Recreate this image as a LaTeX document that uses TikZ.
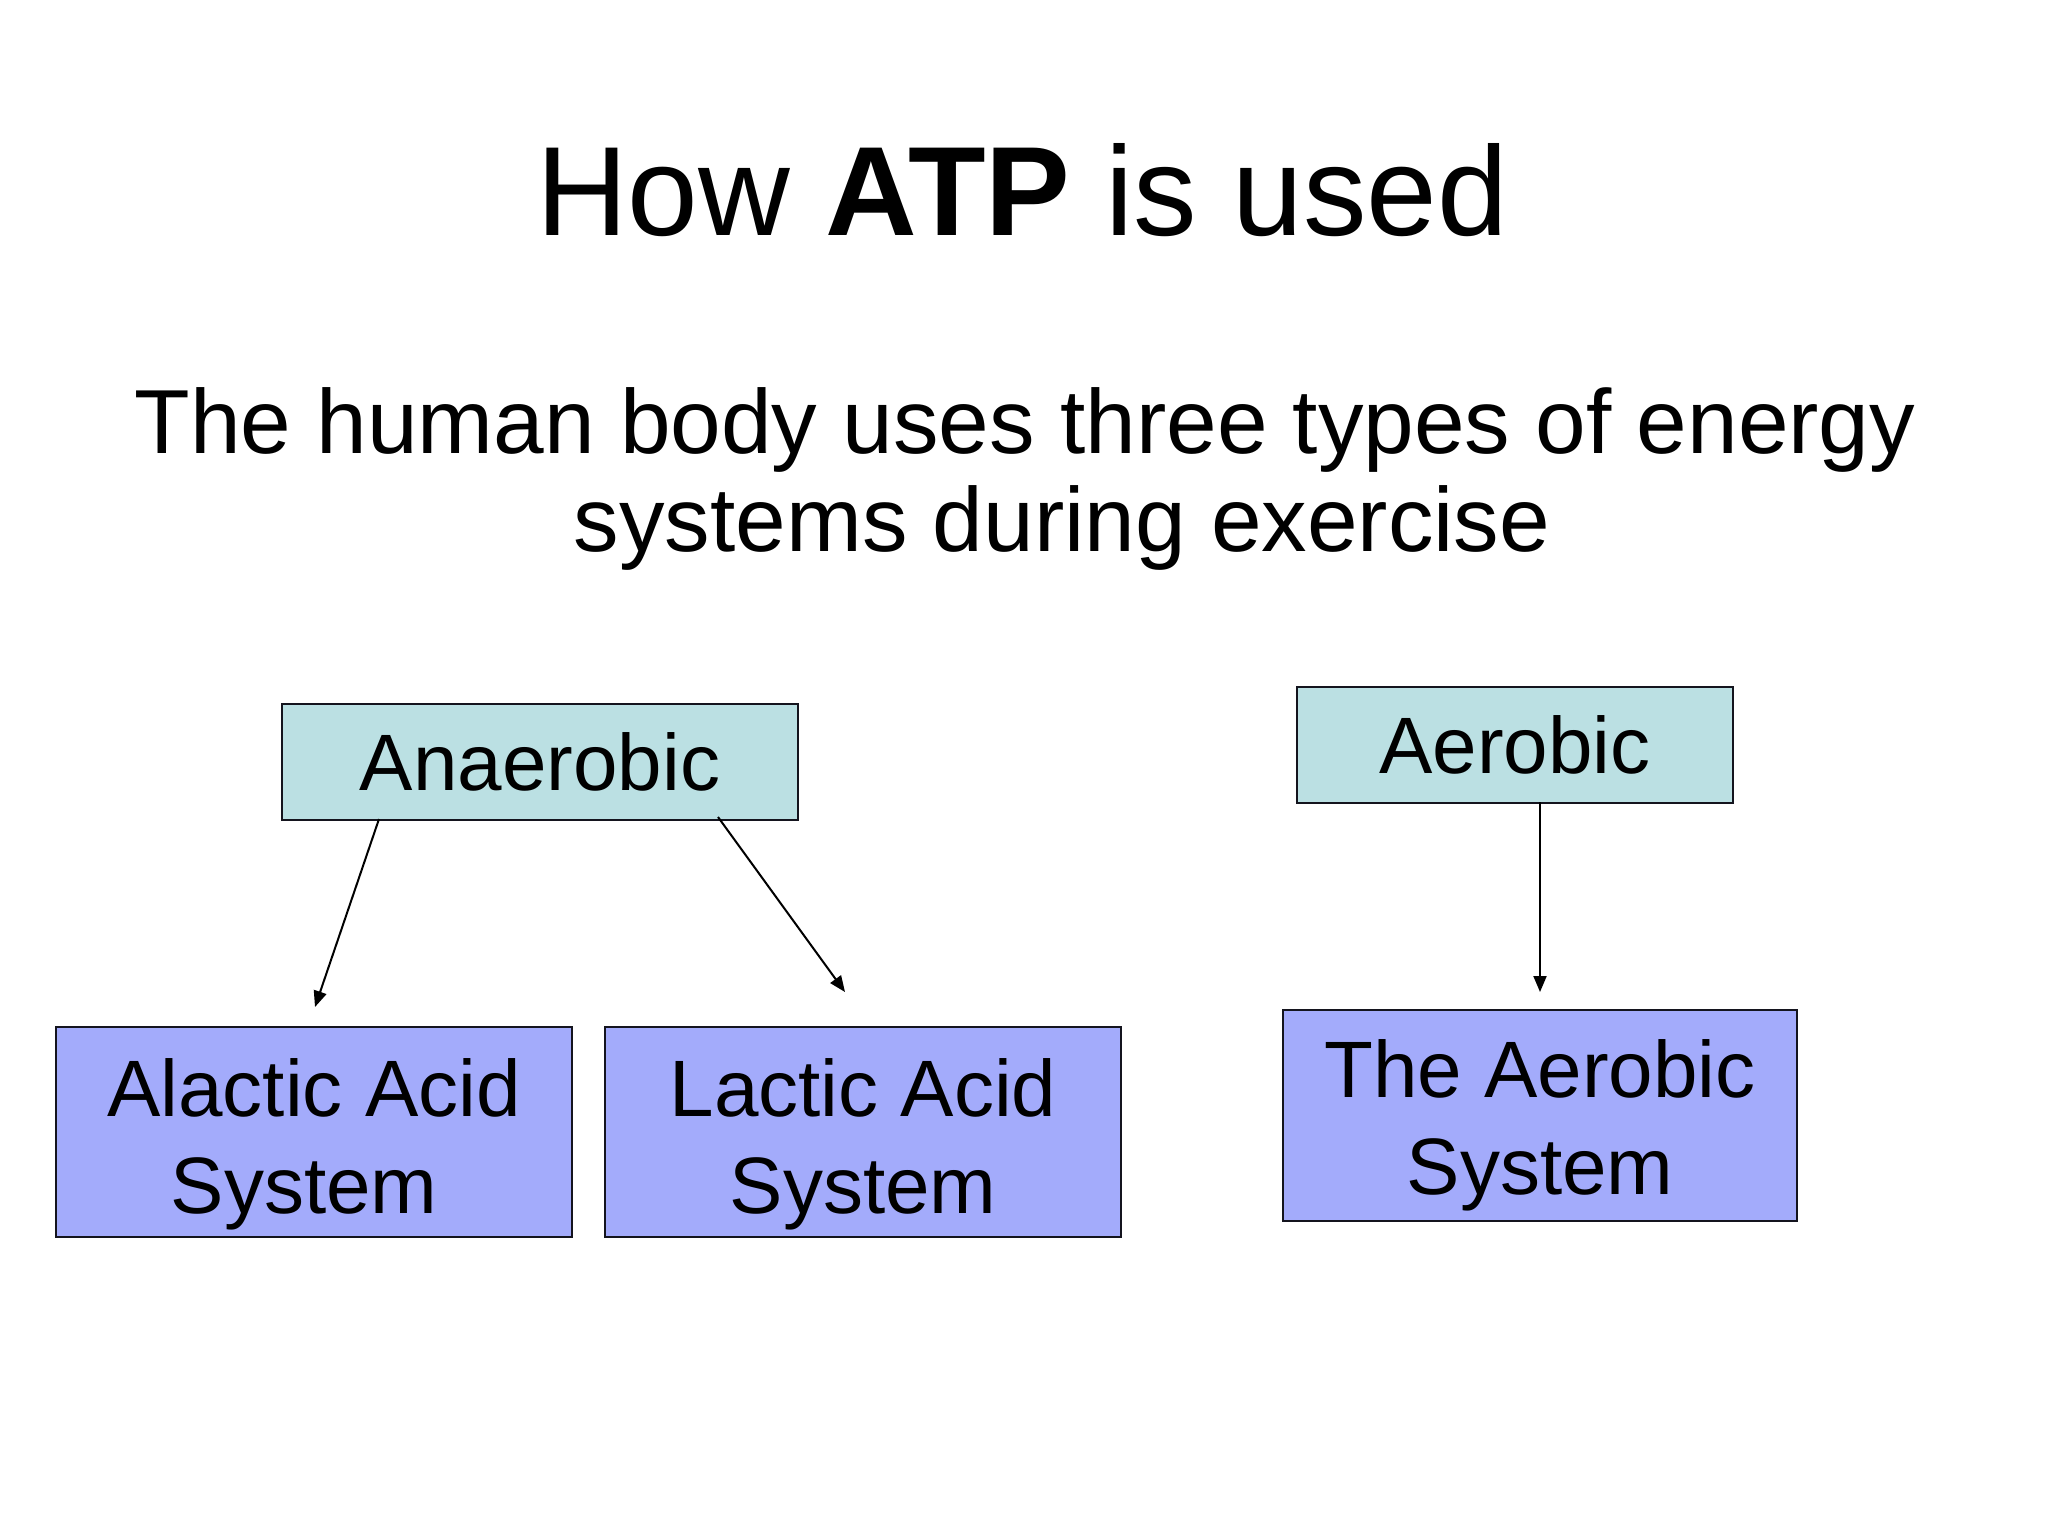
\documentclass[tikz,border=0pt]{standalone}
\usepackage{fontspec}
\setmainfont{Liberation Sans}
\usetikzlibrary{arrows.meta}
\definecolor{topfill}{RGB}{187,224,227}
\definecolor{botfill}{RGB}{163,171,251}
\definecolor{edge}{RGB}{20,20,30}
\tikzset{
  px/.style={x=0.5pt,y=-0.5pt},
  topbox/.style={draw=edge,line width=1pt,fill=topfill,inner sep=0pt,minimum height=58pt,
    font=\fontsize{40}{48.5}\selectfont},
  botbox/.style={draw=edge,line width=1pt,fill=botfill,inner sep=0pt,minimum width=258pt,minimum height=105pt},
  boxtext/.style={inner sep=0pt,align=center,font=\fontsize{40}{48.5}\selectfont},
  arr/.style={line width=1pt,-{Triangle[length=8pt,width=6.5pt]}},
}
\begin{document}
\begin{tikzpicture}[px]
\useasboundingbox (0,0) rectangle (2048,1536);
\fill[white] (0,0) rectangle (2048,1536);
\node[anchor=base,inner sep=0pt,font=\fontsize{63.5}{70}\selectfont] (title) at (1022,235) {How \textbf{ATP} is used};
\node[anchor=base,inner sep=0pt,font=\fontsize{45.5}{49}\selectfont] (sub1) at (1025,453) {The human body uses three types of energy};
\node[anchor=base,inner sep=0pt,font=\fontsize{45.5}{49}\selectfont] (sub2) at (1062,551) {systems during exercise};

\node[topbox,minimum width=258pt] (ana) at (540,762) {Anaerobic};
\node[topbox,minimum width=218pt] (aer) at (1515,745) {Aerobic};
\node[botbox] (alac) at (314,1132) {};
\node[botbox] (lac) at (863,1132) {};
\node[botbox,minimum width=257pt,minimum height=105.5pt] (aers) at (1540,1115.5) {};
\node[boxtext] (alact) at ([yshift=-6pt]alac.center) {Alactic Acid\\System\hspace*{10pt}};
\node[boxtext] (lact) at ([yshift=-6pt]lac.center) {Lactic Acid\\System};
\node[boxtext] (aerst) at ([yshift=-5pt]aers.center) {The Aerobic\\System};

\coordinate (a1) at ([xshift=-80.5pt,yshift=1pt]ana.south);
\coordinate (a2) at ([xshift=89pt,yshift=2pt]ana.south);
\coordinate (e1) at ([xshift=0.5pt,yshift=9.5pt]alac.north);
\coordinate (e2) at ([xshift=-9pt,yshift=17pt]lac.north);
\coordinate (b1) at ([xshift=12.5pt,yshift=1pt]aer.south);
\coordinate (e3) at ([yshift=8.5pt]aers.north);
\draw[arr] (a1) -- (e1);
\draw[arr] (a2) -- (e2);
\draw[arr] (b1) -- (b1 |- e3);
\end{tikzpicture}
\end{document}
